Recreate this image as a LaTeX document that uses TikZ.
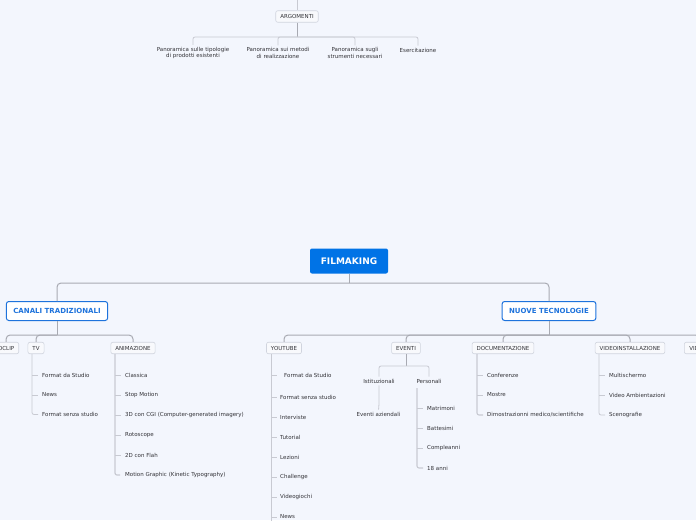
\documentclass[tikz,border=0pt]{standalone}
\usepackage{fontspec}
\setmainfont{DejaVu Sans}
\definecolor{bg}{RGB}{243,246,253}
\definecolor{linec}{RGB}{168,170,178}
\definecolor{sublinec}{RGB}{200,202,210}
\definecolor{boxdraw}{RGB}{208,212,222}
\definecolor{boxfill}{RGB}{248,249,252}
\definecolor{txt}{RGB}{50,50,55}
\definecolor{mainblue}{RGB}{0,115,230}
\definecolor{catblue}{RGB}{30,115,220}
\begin{document}
\begin{tikzpicture}[x=1pt,y=-1pt,
  leaf/.style={font=\fontsize{5.5}{6.5}\selectfont, text=txt, inner sep=0pt, anchor=west},
  cleaf/.style={font=\fontsize{5.5}{6.5}\selectfont, text=txt, inner xsep=0pt, inner ysep=2pt, align=center},
  cat/.style={draw=boxdraw, fill=boxfill, line width=0.6pt, rounded corners=2pt, font=\fontsize{5.5}{6.5}\selectfont, text=txt, inner xsep=4.5pt, inner ysep=0pt, minimum height=11.5pt},
  root/.style={fill=mainblue, rounded corners=2pt, font=\bfseries\fontsize{9}{10}\selectfont, text=white, minimum width=78pt, minimum height=25pt},
  topic/.style={draw=catblue, fill=white, line width=1pt, rounded corners=2.5pt, font=\bfseries\fontsize{7}{8}\selectfont, text=catblue, minimum height=19pt, inner xsep=7pt},
  mainline/.style={draw=linec, line width=1pt, rounded corners=4pt},
  subline/.style={draw=sublinec, line width=0.8pt, rounded corners=2pt},
  tick/.style={draw=sublinec, line width=0.7pt}
]
\useasboundingbox (0,0) rectangle (696,520);
\clip (0,0) rectangle (696,520);
\fill[bg] (0,0) rectangle (696,520);

% ---------- top: ARGOMENTI ----------
\node[cat] (arg) at (297,16.5) {ARGOMENTI};
\coordinate (argtop) at (297,0);
\draw[subline] (argtop) -- (arg.north);
\coordinate (argH) at (297,37);
\node[cleaf] (a1) at (193,53) {Panoramica sulle tipologie\\di prodotti esistenti};
\node[cleaf] (a2) at (278,53) {Panoramica sui metodi\\di realizzazione};
\node[cleaf] (a3) at (355,53) {Panoramica sugli\\strumenti necessari};
\node[cleaf] (a4) at (418,50) {Esercitazione};
\draw[linec, line width=0.9pt] (arg.south) -- (argH);
\draw[subline] (argH) -| (a1.north);
\draw[subline] (argH) -| (a2.north);
\draw[subline] (argH) -| (a3.north);
\draw[subline] (argH) -| (a4.north);

% ---------- root ----------
\node[root] (film) at (349,261) {FILMAKING};
\node[topic] (canali) at (57,311) {CANALI TRADIZIONALI};
\node[topic] (nuove) at (549,311) {NUOVE TECNOLOGIE};
\coordinate (filmH) at (349,283);
\draw[mainline] (film.south) -- (filmH);
\draw[mainline] (filmH) -| (canali.north);
\draw[mainline] (filmH) -| (nuove.north);

% ---------- CANALI TRADIZIONALI ----------
\node[cat, anchor=east] (vclip) at (19,348) {OCLIP};
\node[cat] (tv) at (36,348) {TV};
\node[cat] (anim) at (133,348) {ANIMAZIONE};
\coordinate (canH) at (57,335);
\draw[mainline] (canali.south) -- (canH);
\draw[mainline] (canH) -| (vclip.north);
\draw[mainline] (canH) -| (tv.north);
\draw[mainline] (canH) -| (anim.north);

% TV children
\node[leaf] (tv1) at (42,375) {Format da Studio};
\node[leaf] (tv2) at (42,395) {News};
\node[leaf] (tv3) at (42,414.5) {Format senza studio};
\coordinate (tvL) at (32,354);
\draw[subline] (tvL) |- ([xshift=-4pt]tv3.west);
\draw[tick] (tv1.west -| tvL) -- ++(6,0);
\draw[tick] (tv2.west -| tvL) -- ++(6,0);

% ANIMAZIONE children
\node[leaf] (an1) at (125,375) {Classica};
\node[leaf] (an2) at (125,395) {Stop Motion};
\node[leaf] (an3) at (125,415) {3D con CGI (Computer-generated imagery)};
\node[leaf] (an4) at (125,435) {Rotoscope};
\node[leaf] (an5) at (125,455) {2D con Flah};
\node[leaf] (an6) at (125,475) {Motion Graphic (Kinetic Typography)};
\coordinate (anL) at (115,354);
\draw[subline, line width=1.2pt] (anL) |- ([xshift=-5pt]an6.west);
\foreach \n in {an1,an2,an3,an4,an5} \draw[tick] (\n.west -| anL) -- ++(6,0);

% ---------- NUOVE TECNOLOGIE ----------
\node[cat] (yt) at (284,348) {YOUTUBE};
\node[cat] (ev) at (406,348) {EVENTI};
\node[cat] (doc) at (503,348) {DOCUMENTAZIONE};
\node[cat] (vinst) at (630,348) {VIDEOINSTALLAZIONE};
\node[cat, anchor=west, minimum width=30pt, text width=20pt] (vid) at (684,348) {VID};
\coordinate (nuoH) at (549,335);
\draw[mainline] (nuove.south) -- (nuoH);
\draw[mainline] (nuoH) -| (yt.north);
\draw[mainline] (nuoH) -| (ev.north);
\draw[mainline] (nuoH) -| (doc.north);
\draw[mainline] (nuoH) -| (vinst.north);
\draw[mainline] (nuoH) -| (vid.north);

% YOUTUBE children
\node[leaf] (y1) at (284,375) {Format da Studio};
\node[leaf] (y2) at (280,397) {Format senza studio};
\node[leaf] (y3) at (280,417) {Interviste};
\node[leaf] (y4) at (280,437) {Tutorial};
\node[leaf] (y5) at (280,457) {Lezioni};
\node[leaf] (y6) at (280,477) {Challenge};
\node[leaf] (y7) at (280,497) {Videogiochi};
\node[leaf] (y8) at (280,517) {News};
\coordinate (ytL) at (271,354);
\coordinate (ytEnd) at (271,522);
\draw[subline] (ytL) -- (ytEnd);
\foreach \n in {y1,y2,y3,y4,y5,y6,y7,y8} \draw[tick] (\n.west -| ytL) -- ++(6,0);

% EVENTI children
\node[cleaf] (ist) at (379,381) {Istituzionali};
\node[cleaf] (pers) at (429,381) {Personali};
\coordinate (evH) at (406,366);
\draw[linec, line width=0.9pt] (ev.south) -- (evH);
\draw[subline] (evH) -| (ist.north);
\draw[subline] (evH) -| (pers.north);
\node[cleaf] (az) at (378.5,414) {Eventi aziendali};
\draw[subline, rounded corners=3pt] (ist.south) -- (379,405) -- (az.north);
\node[leaf] (p1) at (427,408) {Matrimoni};
\node[leaf] (p2) at (427,428) {Battesimi};
\node[leaf] (p3) at (427,448) {Compleanni};
\node[leaf] (p4) at (427,468) {18 anni};
\coordinate (pL) at (417,388);
\draw[subline, line width=1.1pt] (pL) |- ([xshift=-4pt]p4.west);
\foreach \n in {p1,p2,p3} \draw[tick] (\n.west -| pL) -- ++(6,0);

% DOCUMENTAZIONE children
\node[leaf] (d1) at (487,375) {Conferenze};
\node[leaf] (d2) at (487,395) {Mostre};
\node[leaf] (d3) at (487,415) {Dimostrazionni medico/scientifiche};
\coordinate (dL) at (477,354);
\draw[subline, line width=1.1pt] (dL) |- ([xshift=-4pt]d3.west);
\foreach \n in {d1,d2} \draw[tick] (\n.west -| dL) -- ++(6,0);

% VIDEOINSTALLAZIONE children
\node[leaf] (v1) at (609,375) {Multischermo};
\node[leaf] (v2) at (609,395) {Video Ambientazioni};
\node[leaf] (v3) at (609,415) {Scenografie};
\coordinate (vL) at (599,354);
\draw[subline] (vL) |- ([xshift=-4pt]v3.west);
\foreach \n in {v1,v2} \draw[tick] (\n.west -| vL) -- ++(6,0);
\end{tikzpicture}
\end{document}
